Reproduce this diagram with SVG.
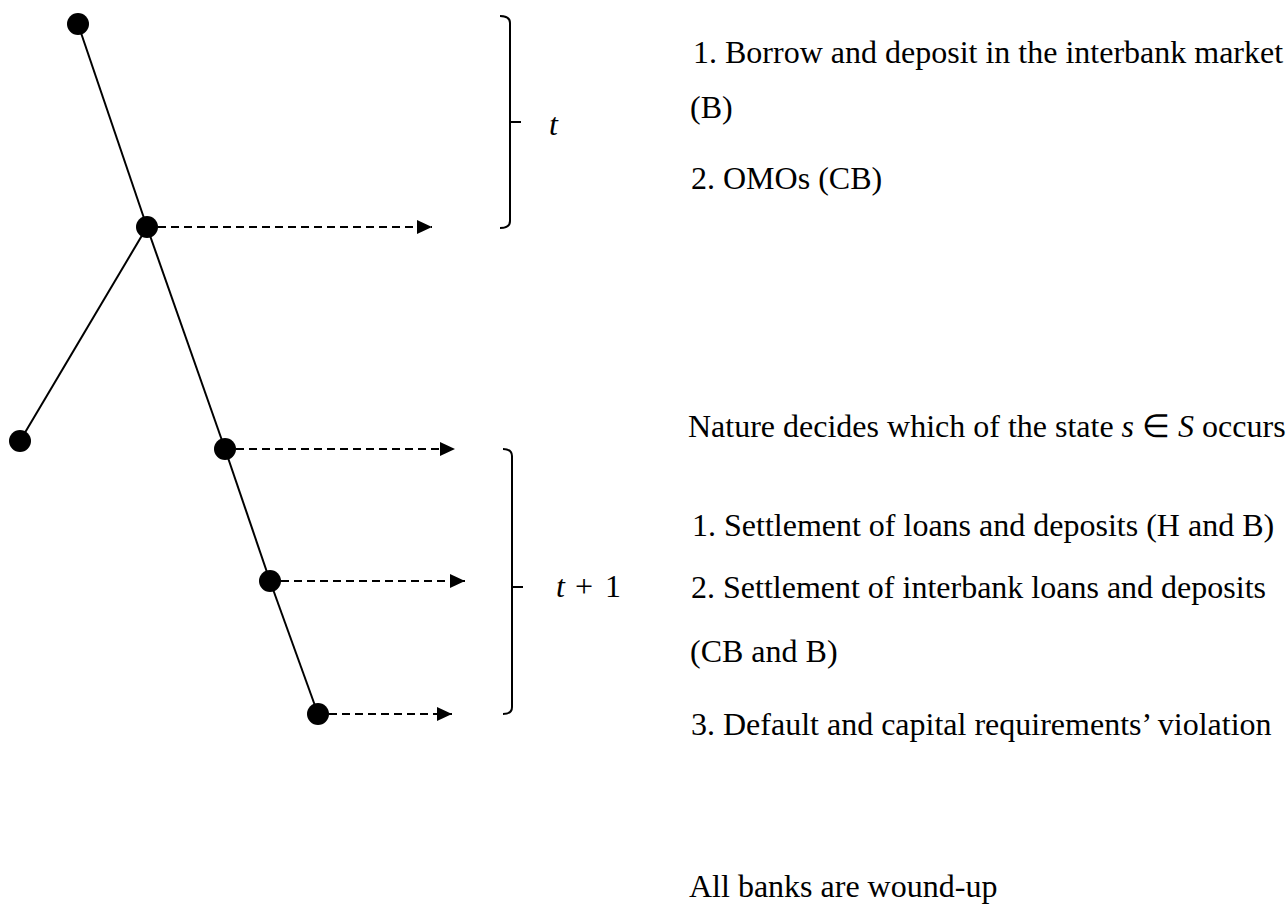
<svg xmlns="http://www.w3.org/2000/svg" width="1286" height="905" viewBox="0 0 1286 905">
<defs>
<marker id="arrow" markerUnits="userSpaceOnUse" markerWidth="16" markerHeight="14" refX="15" refY="7" orient="auto">
<path d="M0,0 L15,7 L0,14 Z" fill="#000"/>
</marker>
<style>
.edge{stroke:#000;stroke-width:2;fill:none}
.dash{stroke:#000;stroke-width:2;fill:none;stroke-dasharray:8,5}
.node{fill:#000}
.brace{stroke:#000;stroke-width:2;fill:none}
.txt{font-family:"Liberation Serif","Times New Roman",serif;font-size:32px;fill:#000}
.math{font-family:"Liberation Serif","Times New Roman",serif;font-size:32px;fill:#000}
.it{font-style:italic}
</style>
</defs>
<rect width="1286" height="905" fill="#fff"/>
<g id="connectors">
<line class="edge" x1="78" y1="24" x2="147" y2="227"/>
<line class="edge" x1="147" y1="227" x2="20" y2="441"/>
<line class="edge" x1="147" y1="227" x2="225" y2="449"/>
<line class="edge" x1="225" y1="449" x2="270" y2="581"/>
<line class="edge" x1="270" y1="581" x2="318" y2="714"/>
<line class="dash" x1="158" y1="227" x2="432" y2="227" marker-end="url(#arrow)"/>
<line class="dash" x1="236" y1="449" x2="455" y2="449" marker-end="url(#arrow)"/>
<line class="dash" x1="281" y1="581" x2="465" y2="581" marker-end="url(#arrow)"/>
<line class="dash" x1="329" y1="714" x2="452" y2="714" marker-end="url(#arrow)"/>
</g>
<g id="node-root"><circle class="node" cx="78" cy="24" r="11"/></g>
<g id="node-t"><circle class="node" cx="147" cy="227" r="11"/></g>
<g id="node-left"><circle class="node" cx="20" cy="441" r="11"/></g>
<g id="node-a"><circle class="node" cx="225" cy="449" r="11"/></g>
<g id="node-b"><circle class="node" cx="270" cy="581" r="11"/></g>
<g id="node-c"><circle class="node" cx="318" cy="714" r="11"/></g>
<g id="brace-t">
<path class="brace" d="M500,16 Q510,16 510,23 L510,221 Q510,228 500,228"/>
<line class="brace" x1="510" y1="122" x2="521" y2="122"/>
<text class="math it" x="549" y="135">t</text>
</g>
<g id="brace-t1">
<path class="brace" d="M503,449 Q512,449 512,456 L512,707 Q512,714 503,714"/>
<line class="brace" x1="512" y1="587" x2="523" y2="587"/>
<text class="math" y="597"><tspan class="it" x="556">t</tspan><tspan x="575">+</tspan><tspan x="605">1</tspan></text>
</g>
<g id="text-t">
<text class="txt" x="693" y="63">1. Borrow and deposit in the interbank market</text>
<text class="txt" x="690" y="118">(B)</text>
<text class="txt" x="691" y="189">2. OMOs (CB)</text>
</g>
<g id="text-t1">
<text class="txt" x="688" y="437">Nature decides which of the state <tspan class="it">s</tspan> ∈ <tspan class="it">S</tspan> occurs</text>
<text class="txt" x="692" y="536">1. Settlement of loans and deposits (H and B)</text>
<text class="txt" x="691" y="598">2. Settlement of interbank loans and deposits</text>
<text class="txt" x="690" y="662">(CB and B)</text>
<text class="txt" x="691" y="735">3. Default and capital requirements’ violation</text>
</g>
<g id="text-end">
<text class="txt" x="689" y="897">All banks are wound-up</text>
</g>
</svg>
